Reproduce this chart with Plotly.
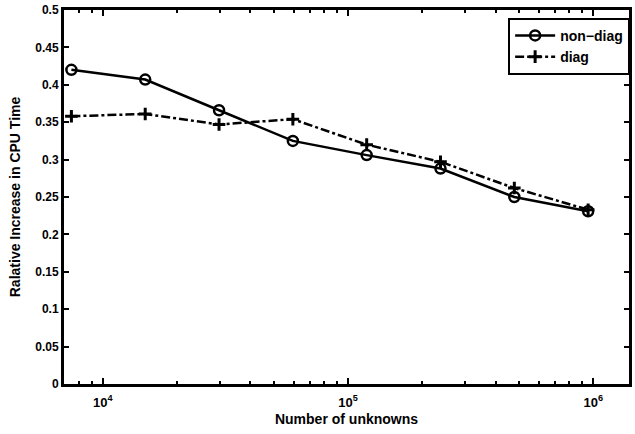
import plotly.graph_objects as go

unknowns = [7.45e3, 1.49e4, 2.98e4, 5.96e4, 1.192e5, 2.384e5, 4.768e5, 9.536e5]
non_diag = [0.420, 0.407, 0.366, 0.325, 0.306, 0.288, 0.250, 0.231]
diag = [0.358, 0.361, 0.347, 0.354, 0.320, 0.297, 0.262, 0.233]
y_ticks = [0, 0.05, 0.1, 0.15, 0.2, 0.25, 0.3, 0.35, 0.4, 0.45, 0.5]
y_tick_text = ["0", "0.05", "0.1", "0.15", "0.2", "0.25", "0.3", "0.35", "0.4", "0.45", "0.5"]
x_ticks = [1e4, 1e5, 1e6]
x_tick_text = ["10<sup>4</sup>", "10<sup>5</sup>", "10<sup>6</sup>"]
x_minor = [m * 10 ** e for e in (3, 4, 5, 6) for m in range(2, 10)]

font = "Liberation Sans, Arial, sans-serif"

fig = go.Figure()
fig.add_trace(go.Scatter(
    x=unknowns, y=non_diag, name="<b>non\u2212diag</b>", mode="lines+markers",
    line=dict(color="black", width=2.5),
    marker=dict(symbol="circle-open", size=10, color="black", line=dict(width=2.5, color="black")),
))
fig.add_trace(go.Scatter(
    x=unknowns, y=diag, name="<b>diag</b>", mode="lines+markers",
    line=dict(color="black", width=2.5, dash="dashdot"),
    marker=dict(symbol="cross-thin-open", size=9, color="black", line=dict(width=3, color="black")),
))

fig.update_layout(
    width=635, height=434,
    margin=dict(l=64, r=3, t=9, b=50),
    paper_bgcolor="white", plot_bgcolor="white",
    font=dict(family=font, size=12, color="black"),
    showlegend=True,
    legend=dict(
        x=1.002, y=0.979, xanchor="right", yanchor="top",
        bgcolor="white", bordercolor="black", borderwidth=2,
        font=dict(family=font, size=14, color="black"),
        tracegroupgap=0, itemwidth=40,
    ),
)
fig.update_xaxes(
    type="log", range=[3.842, 6.146],
    tickvals=x_ticks, ticktext=x_tick_text,
    ticks="inside", ticklen=6, tickwidth=2, tickcolor="black",
    showline=True, linewidth=3, linecolor="black", mirror="ticks",
    showgrid=False, zeroline=False, ticklabelstandoff=4,
    tickfont=dict(family=font, size=13, color="black", weight="bold"),
    minor=dict(tickvals=x_minor, ticks="inside", ticklen=3, tickwidth=2, tickcolor="black", showgrid=False),
    title=dict(text="<b>Number of unknowns</b>", font=dict(family=font, size=14), standoff=6),
)
fig.update_yaxes(
    range=[0, 0.5],
    tickvals=y_ticks, ticktext=y_tick_text,
    ticks="inside", ticklen=5, tickwidth=2, tickcolor="black",
    showline=True, linewidth=3, linecolor="black", mirror="ticks",
    showgrid=False, zeroline=False,
    tickfont=dict(family=font, size=12, color="black", weight="bold"),
    title=dict(text="<b>Ralative Increase in CPU Time</b>", font=dict(family=font, size=14), standoff=12),
)

fig.write_html("out.html")
